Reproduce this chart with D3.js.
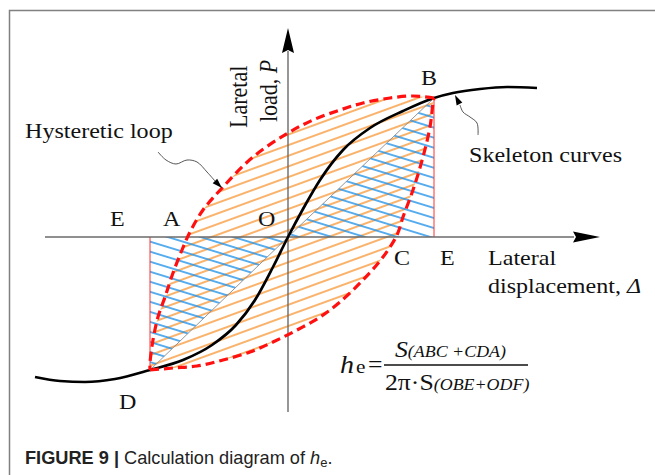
<!DOCTYPE html>
<html><head><meta charset="utf-8">
<script src="https://cdn.jsdelivr.net/npm/d3@7"></script>
<style>html,body{margin:0;padding:0;background:#fff;overflow:hidden}</style>
</head><body>
<svg id="c" width="655" height="475"></svg>
<script>
// ---- data (displacement Δ, load P) in diagram units ----
const skeletonCurve = [[-25.3,-14.0],[-22.8,-14.4],[-20.3,-14.5],[-17.3,-14.2],[-13.8,-13.3],[-10.5,-12.3],[-7.6,-10.8],[-5.2,-8.8],[-3.3,-6.3],[-1.5,-3.0],[0,0],[1.5,2.8],[3.2,5.7],[5.5,8.7],[8.2,10.9],[11.5,12.6],[14.6,13.9],[16.5,14.4],[19.2,14.8],[21.9,15.0],[24.9,14.9]];
const loopUpperBranch = [[14.6,13.9],[12.5,14.1],[10.2,13.9],[7.5,13.4],[5.2,12.7],[2.5,11.7],[0,10.4],[-3.5,8.0],[-6.5,5.0],[-8.5,2.7],[-9.8,0.5],[-10.6,-1.3],[-11.5,-3.6],[-12.3,-6.0],[-13.0,-8.0],[-13.5,-10.3],[-13.8,-12.6],[-13.8,-13.3]];
const loopLowerBranch = [[-13.8,-13.3],[-11.5,-13.1],[-9.1,-12.9],[-6.5,-12.3],[-3.8,-11.5],[-1.5,-10.5],[0.9,-9.3],[3.2,-8.0],[5.2,-6.5],[7.5,-4.3],[9.5,-2.0],[10.9,0.2],[11.5,2.0],[12.5,4.7],[13.5,8.0],[14.2,11.0],[14.5,13.4],[14.6,13.9]];
const pointO = [0,0], pointB = [14.6,13.9], pointD = [-13.8,-13.3];
const pointE = [14.6,0], pointF = [-13.8,0];
const axisX = [-24.3, 31.2];
const axisY = [-17.5, 20.9];
const loopPointer = [[-13.0,8.5],[-12.2,7.7],[-11.2,7.3],[-10.1,7.7],[-9.1,7.5],[-8.1,6.5],[-7.3,5.6],[-6.6,4.9]];
const skeletonPointer = [[19.0,10.2],[18.9,11.4],[18.2,12.0],[17.5,12.5],[17.2,13.2],[16.7,14.2]];

// ---- scales ----
const x = d3.scaleLinear().domain([-28,32]).range([8,608]);
const y = d3.scaleLinear().domain([-20,20]).range([437,37]);
const svg = d3.select("#c");
const defs = svg.append("defs");

function hatch(id, angle, spacing, color, width){
  const p = defs.append("pattern").attr("id",id).attr("patternUnits","userSpaceOnUse")
    .attr("width",40).attr("height",spacing).attr("patternTransform",`rotate(${angle})`);
  p.append("line").attr("x1",-1).attr("x2",41).attr("y1",spacing/2).attr("y2",spacing/2)
    .attr("stroke",color).attr("stroke-width",width);
}
hatch("orangeHatch",-20,10,"#f79a3a",1.4);
hatch("blueHatch",17,9.6,"#1e90e8",1.4);

// frame
svg.append("rect").attr("x",9.5).attr("y",10.5).attr("width",700).attr("height",500)
  .attr("fill","none").attr("stroke","#808080").attr("stroke-width",1.5);

const curve = d3.line().x(d=>x(d[0])).y(d=>y(d[1])).curve(d3.curveCatmullRom.alpha(0.5));
const smooth = d3.line().x(d=>x(d[0])).y(d=>y(d[1])).curve(d3.curveMonotoneX);
const straight = d3.line().x(d=>x(d[0])).y(d=>y(d[1]));

// loop hatch
const upperD = curve(loopUpperBranch), lowerD = curve(loopLowerBranch);
svg.append("path").attr("d", upperD + lowerD.replace(/^M/,"L") + "Z").attr("fill","url(#orangeHatch)");

// blue triangles
svg.append("path").attr("d", straight([pointO,pointB,pointE]) + "Z").attr("fill","url(#blueHatch)");
svg.append("path").attr("d", straight([pointO,pointD,pointF]) + "Z").attr("fill","url(#blueHatch)");

// gray diagonals
[[pointO,pointB],[pointO,pointD]].forEach(s=>{
  svg.append("path").attr("d", straight(s)).attr("stroke","#8a8a8a").attr("stroke-width",0.9).attr("fill","none");
});
// red verticals
[[pointB,pointE],[pointD,pointF]].forEach(s=>{
  svg.append("path").attr("d", straight(s)).attr("stroke","#ff3030").attr("stroke-width",1).attr("fill","none");
});

// axes
const axisColor = "#6a6a6a";
svg.append("line").attr("x1",x(axisX[0])).attr("x2",x(axisX[1])-26).attr("y1",y(0)).attr("y2",y(0))
  .attr("stroke",axisColor).attr("stroke-width",1.4);
svg.append("line").attr("x1",x(0)).attr("x2",x(0)).attr("y1",y(axisY[0])).attr("y2",y(axisY[1])+23)
  .attr("stroke",axisColor).attr("stroke-width",1.4);
{
  const tx = x(axisX[1]), ty = y(0);
  svg.append("path").attr("d",`M${tx},${ty} L${tx-27},${ty-5.5} L${tx-24},${ty} L${tx-27},${ty+5.5} Z`).attr("fill","#000");
  const ux = x(0), uy = y(axisY[1]);
  svg.append("path").attr("d",`M${ux},${uy} L${ux+6},${uy+25} L${ux},${uy+22} L${ux-6},${uy+25} Z`).attr("fill","#000");
}

// skeleton curve
svg.append("path").attr("d", smooth(skeletonCurve)).attr("fill","none").attr("stroke","#000").attr("stroke-width",2.7);

// loop dashed
[upperD, lowerD].forEach(d=>{
  svg.append("path").attr("d", d).attr("fill","none").attr("stroke","#ff1010")
    .attr("stroke-width",3.2).attr("stroke-dasharray","9,5");
});

// pointers
function pointer(pts){
  const body = pts.slice(0,-1);
  svg.append("path").attr("d", curve(body)).attr("fill","none").attr("stroke","#444").attr("stroke-width",0.9);
  const a = pts[pts.length-2], b = pts[pts.length-1];
  const ax = x(a[0]), ay = y(a[1]), bx = x(b[0]), by = y(b[1]);
  const ang = Math.atan2(by-ay, bx-ax);
  const L = 10, Wd = 3.2;
  const p1 = [bx - L*Math.cos(ang) + Wd*Math.sin(ang), by - L*Math.sin(ang) - Wd*Math.cos(ang)];
  const p2 = [bx - L*Math.cos(ang) - Wd*Math.sin(ang), by - L*Math.sin(ang) + Wd*Math.cos(ang)];
  svg.append("path").attr("d",`M${bx},${by} L${p1[0]},${p1[1]} L${p2[0]},${p2[1]} Z`).attr("fill","#000");
}
pointer(loopPointer);
pointer(skeletonPointer);

// labels
const SX = 1.12;
const serif = "'Liberation Serif','Times New Roman',serif";
function label(txt, px, py, size, italic){
  return svg.append("text").attr("transform",`translate(${px},${py}) scale(${SX},1)`)
    .attr("font-family",serif).attr("font-size",size).attr("fill","#111")
    .attr("font-style", italic ? "italic" : "normal").text(txt);
}
label("Hysteretic loop", 25, 138, 21.5);
label("Skeleton curves", 469, 162, 21.5);
label("E", 110, 226, 21.5);
label("A", 163, 226, 21.5);
label("O", 258, 226, 21.5);
label("B", 421, 85, 21.5);
label("C", 394, 265, 21.5);
label("E", 440, 265, 21.5);
label("D", 119, 409, 21.5);
label("Lateral", 488, 265, 21.5);
{
  const t = label("", 488, 293, 21.5);
  t.append("tspan").text("displacement, ");
  t.append("tspan").attr("font-style","italic").text("Δ");
}
function vlabel(px, py){
  return svg.append("text").attr("transform",`translate(${px},${py}) rotate(-90) scale(1,${SX})`)
    .attr("font-family",serif).attr("font-size",22).attr("fill","#111");
}
vlabel(247, 128).text("Laretal");
{
  const t = vlabel(277, 122);
  t.append("tspan").text("load, ");
  t.append("tspan").attr("font-style","italic").text("P");
}

// formula
label("h", 340, 373, 25, true);
label("e", 356, 373, 19);
label("=", 368, 372, 23);
svg.append("line").attr("x1",384).attr("x2",528).attr("y1",365).attr("y2",365).attr("stroke","#111").attr("stroke-width",1.3);
{
  const t = label("", 395, 357, 23);
  t.append("tspan").attr("font-style","italic").text("S");
  t.append("tspan").attr("font-style","italic").attr("font-size",16).text("(ABC +CDA)");
  const d = label("", 385, 390, 23);
  d.append("tspan").text("2π·S");
  d.append("tspan").attr("font-style","italic").attr("font-size",16).text("(OBE+ODF)");
}

// caption
{
  const t = svg.append("text").attr("x",25).attr("y",464)
    .attr("font-family","'Liberation Sans',Arial,sans-serif").attr("font-size",18.2).attr("fill","#222");
  t.append("tspan").attr("font-weight","bold").text("FIGURE 9 | ");
  t.append("tspan").text("Calculation diagram of ");
  t.append("tspan").attr("font-style","italic").text("h");
  t.append("tspan").attr("font-size",13).attr("dy",3).text("e");
  t.append("tspan").attr("dy",-3).text(".");
}
</script>
</body></html>
